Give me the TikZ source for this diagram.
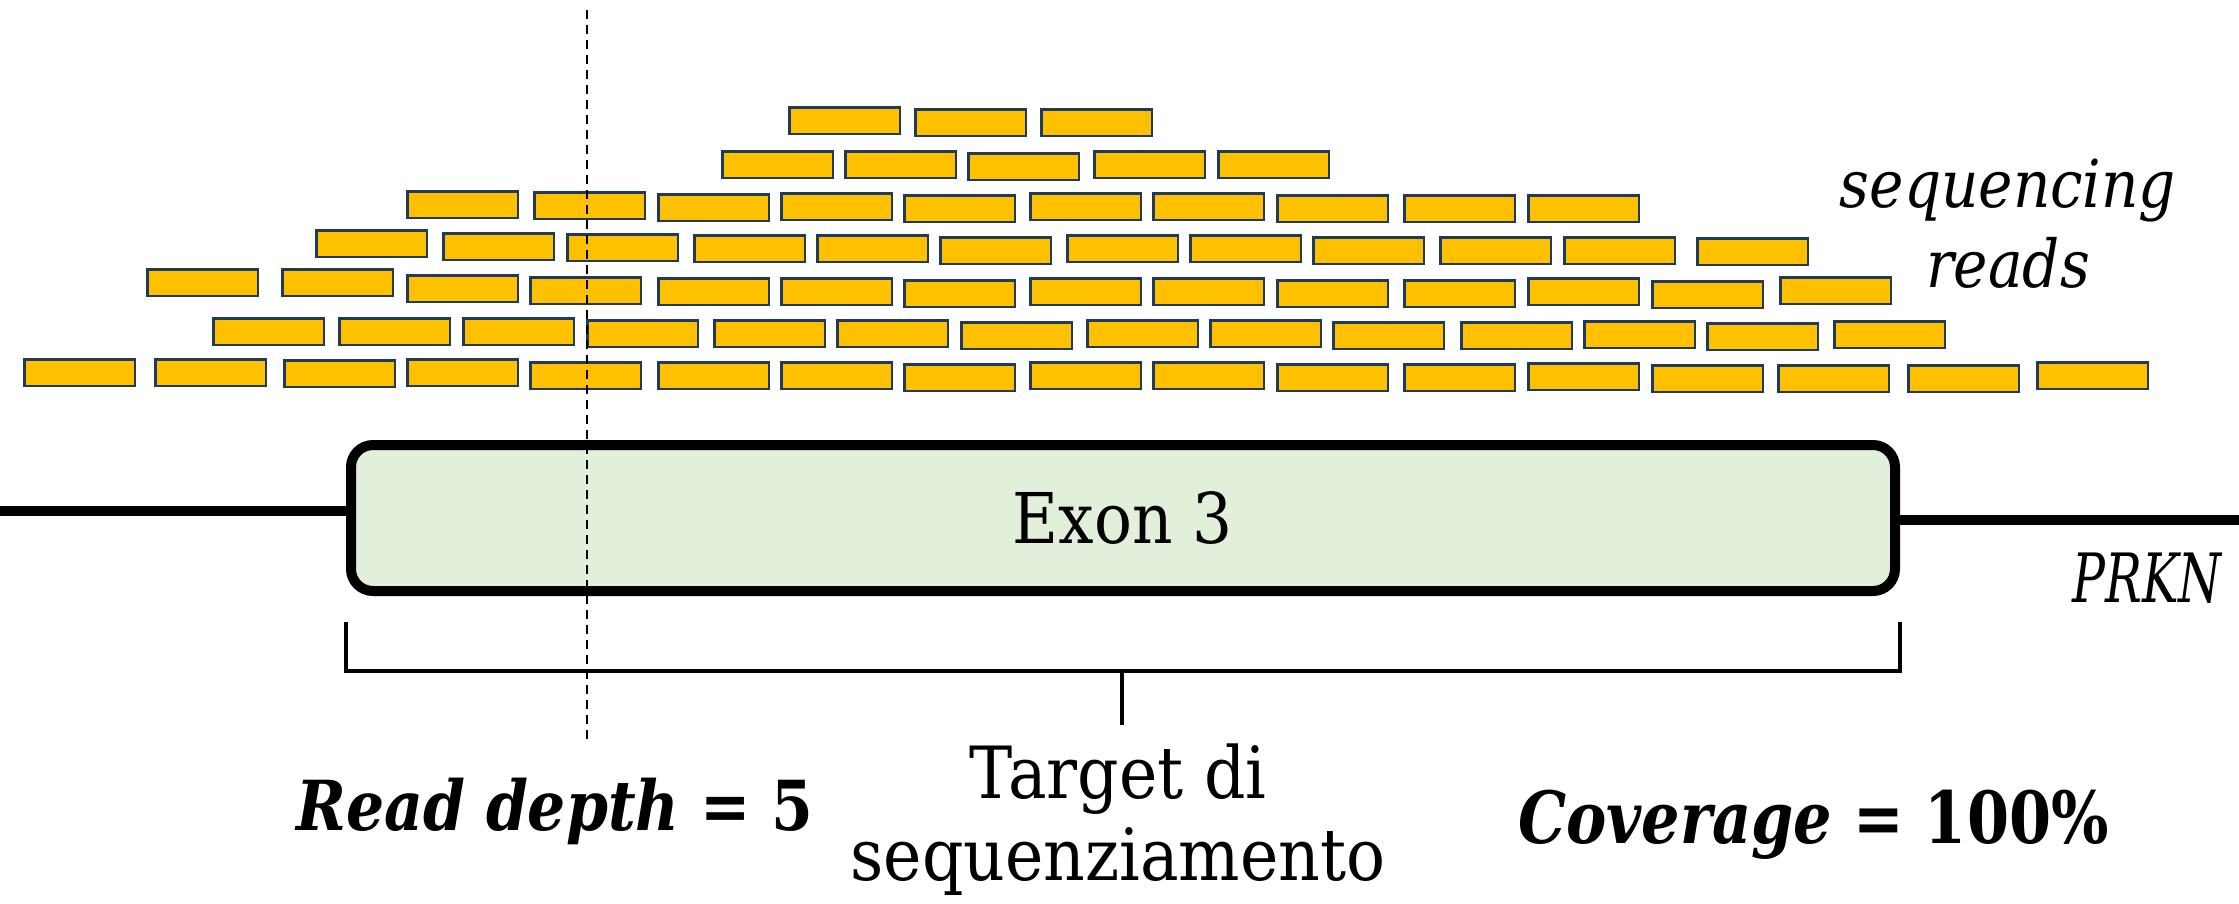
\documentclass[tikz,border=0pt]{standalone}
\usepackage{fontspec}
\setmainfont{DejaVu Serif}
\newfontfamily\plainfont[FakeStretch=0.9]{DejaVu Serif}
\newfontfamily\prknfont[FakeStretch=0.72]{DejaVu Serif}
\newfontfamily\seqfont[FakeStretch=0.88]{DejaVu Serif}
\newfontfamily\depthfont[FakeStretch=0.87]{DejaVu Serif}
\newfontfamily\covfont[FakeStretch=0.84]{DejaVu Serif}
\usetikzlibrary{calc}
\definecolor{readfill}{HTML}{FFC000}
\definecolor{readedge}{HTML}{1F3A5A}
\definecolor{exonfill}{HTML}{E2EFDA}
\tikzset{
  readbox/.style={draw=readedge, fill=readfill, line width=2.5pt},
  exonbox/.style={draw=black, fill=exonfill, line width=10pt, rounded corners=22pt,
     minimum width=1544pt, minimum height=146pt, inner sep=0pt,
     font=\plainfont\fontsize{70}{80}\selectfont},
  geneline/.style={draw=black, line width=10pt},
  bracketline/.style={draw=black, line width=4.5pt, line join=miter},
  depthline/.style={draw=black, line width=2.5pt, dash pattern=on 9pt off 6pt},
  plainlbl/.style={inner sep=0pt, font=\plainfont\fontsize{72}{80}\selectfont},
  prknlbl/.style={inner sep=0pt, font=\prknfont\itshape\fontsize{68}{80}\selectfont},
  readlbl/.style={inner sep=0pt, font=\seqfont\itshape\fontsize{66}{80}\selectfont},
  depthlbl/.style={inner sep=0pt, font=\depthfont\bfseries\fontsize{69}{80}\selectfont},
  covlbl/.style={inner sep=0pt, font=\covfont\bfseries\fontsize{72}{80}\selectfont},
}
\begin{document}
\begin{tikzpicture}[x=1pt,y=-1pt]
\useasboundingbox (0,0) rectangle (2239,903);
% sequencing reads
\foreach \rx/\ry in {
 788/106, 914/108, 1040/108,
 721/150, 844/150, 967/152, 1093/150, 1217/150,
 406/190, 533/191, 657/193, 780/192, 903/194, 1029/192, 1152/192, 1276/194, 1403/194, 1527/194,
 315/229, 442/232, 566/233, 693/234, 816/234, 939/236, 1066/234, 1189/234, 1312/236, 1439/236, 1563/236, 1696/237,
 146/268, 281/268, 406/274, 529/276, 657/277, 780/277, 903/279, 1029/277, 1152/277, 1276/279, 1403/279, 1527/277, 1651/280, 1779/276,
 212/317, 338/317, 462/317, 586/319, 713/319, 836/319, 960/321, 1086/319, 1209/319, 1332/321, 1460/321, 1583/320, 1706/322, 1833/320,
 23/358, 154/358, 283/359, 406/358, 529/361, 657/361, 780/361, 903/363, 1029/361, 1152/361, 1276/363, 1403/363, 1527/362, 1651/364, 1777/364, 1907/364, 2036/361}
{
  \draw[readbox] (\rx+1.25,\ry+1.25) rectangle (\rx+111.75,\ry+27.75);
}
% exon box
\node[exonbox] (exon) at (1123,518) {Exon 3};
% gene line
\coordinate (gl) at (0,511);
\coordinate (gr) at (2239,520);
\draw[geneline] (gl) -- (gl -| exon.west);
\draw[geneline] (exon.east |- gr) -- (gr);
\node[prknlbl, anchor=base east] (prkn) at (2222,602) {PRKN};
% reads label
\node[readlbl, anchor=base] (seqlbl) at (2008,207) {sequencing};
\node[readlbl, anchor=base] (readslbl) at (2008,287) {reads};
% bracket
\coordinate (bl) at ($(exon.south west)+(0,26)$);
\coordinate (br) at ($(exon.south east)+(0,26)$);
\coordinate (bm) at (1122,671);
\coordinate (bt) at (1122,725);
\draw[bracketline] (bl) -- (bl |- bm) -- (br |- bm) -- (br);
\draw[bracketline] (bm) -- (bt);
\node[plainlbl, anchor=base] (target1) at (1118,798) {Target di};
\node[plainlbl, anchor=base] (target2) at (1118,880) {sequenziamento};
% read depth line
\coordinate (dtop) at (587,10);
\coordinate (dbot) at (587,740);
\draw[depthline] (dtop) -- (dbot);
\node[depthlbl, anchor=base west] (depth) at (296,830) {\itshape Read depth\upshape{} = 5};
\node[covlbl, anchor=base west] (cov) at (1518,843) {\itshape Coverage\upshape{} = 100\%};
\end{tikzpicture}
\end{document}
